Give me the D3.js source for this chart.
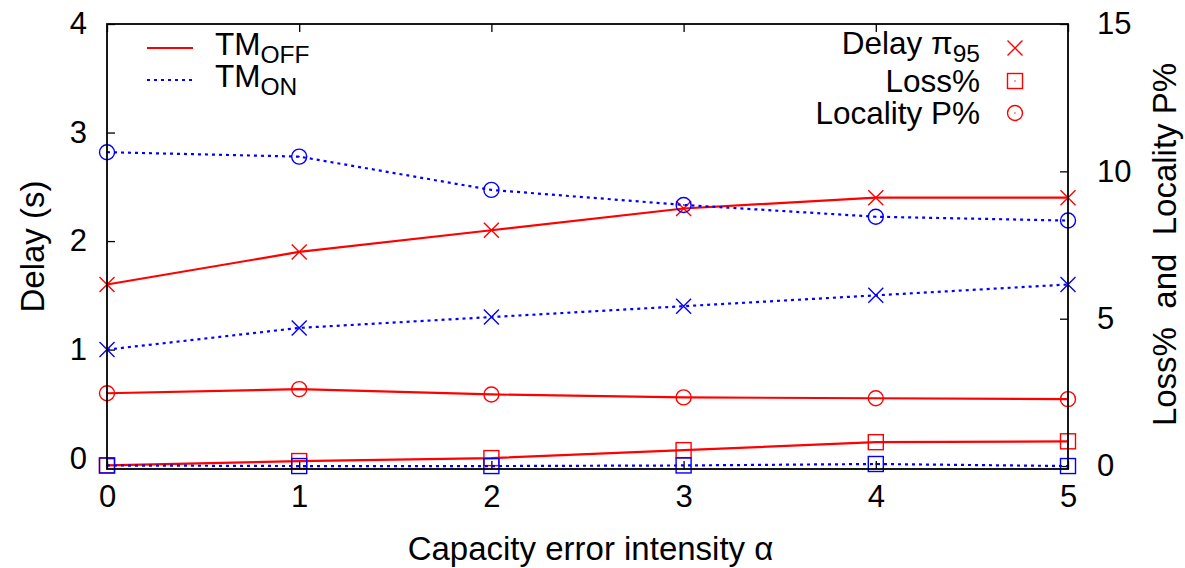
<!DOCTYPE html>
<html><head><meta charset="utf-8">
<script src="https://cdn.jsdelivr.net/npm/d3@7"></script>
<style>body{margin:0;background:#fff}svg{display:block}text{font-family:'Liberation Sans',Arial,Helvetica,sans-serif;fill:#000}</style>
</head><body><svg id="c" width="1185" height="568"></svg>
<script>
const alpha = [0,1,2,3,4,5];
const delayOff = [1.6,1.9,2.1,2.3,2.4,2.4];
const delayOn  = [1.0,1.2,1.3,1.4,1.5,1.6];
const lossOff  = [0.02,0.17,0.27,0.54,0.81,0.84];
const lossOn   = [0.02,0.0,0.0,0.02,0.07,0.0];
const localityOff = [2.47,2.61,2.43,2.33,2.30,2.27];
const localityOn  = [10.65,10.50,9.37,8.86,8.46,8.33];
const xTicks = [0,1,2,3,4,5];
const yTicks = [0,1,2,3,4];
const y2Ticks = [0,5,10,15];

const svg = d3.select('#c');
const L=107, R=1068, T=24, B=469;
const FS = 31, FL = 33, FG = 31.5;
const x = d3.scaleLinear().domain([0,5]).range([L,R]);
const y = d3.scaleLinear().domain([-0.1,4]).range([B,T]);
const y2 = d3.scaleLinear().domain([-0.1,15]).range([B,T]);

const RED='#ff0000', BLUE='#0000ff';
const tk=8;
const axB = d3.axisBottom(x).tickValues(xTicks).tickSizeInner(-tk).tickSizeOuter(0).tickPadding(16).tickFormat(d3.format('d'));
const axT = d3.axisTop(x).tickValues(xTicks).tickSizeInner(-tk).tickSizeOuter(0).tickFormat('');
const axL = d3.axisLeft(y).tickValues(yTicks).tickSizeInner(-tk).tickSizeOuter(0).tickPadding(20).tickFormat(d3.format('d'));
const axR = d3.axisRight(y2).tickValues(y2Ticks).tickSizeInner(-tk).tickSizeOuter(0).tickPadding(29).tickFormat(d3.format('d'));
function style(g){g.select('.domain').remove();g.selectAll('line').attr('stroke','#000').attr('stroke-width',1.3);g.selectAll('text').attr('font-size',FS).attr('font-family',"'Liberation Sans',Arial,sans-serif").attr('fill','#000');}
svg.append('g').attr('transform',`translate(0,${B})`).call(axB).call(style);
svg.append('g').attr('transform',`translate(0,${T})`).call(axT).call(style);
svg.append('g').attr('transform',`translate(${L},0)`).call(axL).call(style);
svg.append('g').attr('transform',`translate(${R},0)`).call(axR).call(style);

// data layer
const lineOf=(ys,sc)=>d3.line().x((d,i)=>x(alpha[i])).y(d=>sc(d))(ys);
function marker(g,type,cx,cy,color){
  const s=7.5;
  if(type==='x'){
    g.append('path').attr('d',`M${cx-s},${cy-s}L${cx+s},${cy+s}M${cx-s},${cy+s}L${cx+s},${cy-s}`).attr('stroke',color).attr('stroke-width',1.4).attr('fill','none');
  } else if(type==='sq'){
    g.append('rect').attr('x',cx-s).attr('y',cy-s).attr('width',2*s).attr('height',2*s).attr('stroke',color).attr('stroke-width',1.4).attr('fill','none');
    g.append('rect').attr('x',cx-0.6).attr('y',cy-0.6).attr('width',1.2).attr('height',1.2).attr('fill',color);
  } else {
    g.append('circle').attr('cx',cx).attr('cy',cy).attr('r',s).attr('stroke',color).attr('stroke-width',1.4).attr('fill','none');
    g.append('rect').attr('x',cx-0.6).attr('y',cy-0.6).attr('width',1.2).attr('height',1.2).attr('fill',color);
  }
}
const series=[
  {ys:delayOff,sc:y,m:'x',c:RED,dash:null},
  {ys:lossOff,sc:y2,m:'sq',c:RED,dash:null},
  {ys:localityOff,sc:y2,m:'o',c:RED,dash:null},
  {ys:delayOn,sc:y,m:'x',c:BLUE,dash:'3,4'},
  {ys:lossOn,sc:y2,m:'sq',c:BLUE,dash:'3,4'},
  {ys:localityOn,sc:y2,m:'o',c:BLUE,dash:'3,4'}
];
const dg=svg.append('g');
series.forEach(s=>{
  dg.append('path').attr('d',lineOf(s.ys,s.sc)).attr('fill','none').attr('stroke',s.c).attr('stroke-width',2.2).attr('stroke-dasharray',s.dash);
  s.ys.forEach((v,i)=>marker(dg,s.m,x(alpha[i]),s.sc(v),s.c));
});

// frame
svg.append('rect').attr('x',L).attr('y',T).attr('width',R-L).attr('height',B-T).attr('fill','none').attr('stroke','#000').attr('stroke-width',1.8);

// axis labels
svg.append('text').attr('x',(L+R)/2+3).attr('y',560).attr('text-anchor','middle').attr('font-size',FL).text('Capacity error intensity α');
svg.append('text').attr('transform',`translate(44,${(T+B)/2}) rotate(-90)`).attr('text-anchor','middle').attr('font-size',FL).text('Delay (s)');
svg.append('text').attr('transform',`translate(1176,${(T+B)/2-2}) rotate(-90)`).attr('text-anchor','middle').attr('font-size',FL).attr('xml:space','preserve').text('Loss%  and  Locality P%');

// left legend
const lg=svg.append('g');
[{t:'TM',sub:'OFF',c:RED,dash:null,yy:48},{t:'TM',sub:'ON',c:BLUE,dash:'3,4',yy:80}].forEach(e=>{
  lg.append('line').attr('x1',147).attr('x2',193).attr('y1',e.yy).attr('y2',e.yy).attr('stroke',e.c).attr('stroke-width',2.2).attr('stroke-dasharray',e.dash);
  const t=lg.append('text').attr('x',215).attr('y',e.yy+7).attr('font-size',FG);
  t.append('tspan').text(e.t);
  t.append('tspan').attr('dy',8).attr('font-size',FG*0.78).text(e.sub);
});
// right legend
const rg=svg.append('g');
[{t:'Delay π',sub:'95',m:'x',yy:48,dy:6},{t:'Loss%',sub:null,m:'sq',yy:81,dy:11},{t:'Locality P%',sub:null,m:'o',yy:113,dy:11}].forEach(e=>{
  const t=rg.append('text').attr('x',980).attr('y',e.yy+e.dy).attr('text-anchor','end').attr('font-size',FG);
  t.append('tspan').text(e.t);
  if(e.sub) t.append('tspan').attr('dy',8).attr('font-size',FG*0.78).text(e.sub);
  marker(rg,e.m,1015,e.yy,RED);
});
</script></body></html>
